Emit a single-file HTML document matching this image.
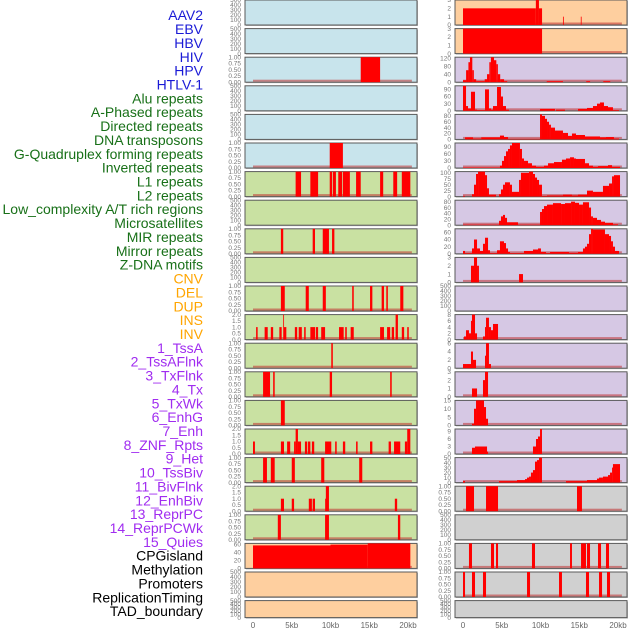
<!DOCTYPE html>
<html><head><meta charset="utf-8"><style>
body{margin:0;background:#fff;}
svg{display:block;font-family:"Liberation Sans",sans-serif;}
</style></head><body>
<svg id="c" width="630" height="630" viewBox="0 0 630 630" xmlns="http://www.w3.org/2000/svg"></svg>
<script>
const labels=["AAV2","EBV","HBV","HIV","HPV","HTLV-1","Alu repeats","A-Phased repeats","Directed repeats","DNA transposons","G-Quadruplex forming repeats","Inverted repeats","L1 repeats","L2 repeats","Low_complexity A/T rich regions","Microsatellites","MIR repeats","Mirror repeats","Z-DNA motifs","CNV","DEL","DUP","INS","INV","1_TssA","2_TssAFlnk","3_TxFlnk","4_Tx","5_TxWk","6_EnhG","7_Enh","8_ZNF_Rpts","9_Het","10_TssBiv","11_BivFlnk","12_EnhBiv","13_ReprPC","14_ReprPCWk","15_Quies","CPGisland","Methylation","Promoters","ReplicationTiming","TAD_boundary"];
const labelGroups=[6,13,5,15,5];
const xTicks=[0,5,10,15,20];
const xTickLabels=["0","5kb","10kb","15kb","20kb"];
const T500=["0","100","200","300","400","500"];
const T1=["0.00","0.25","0.50","0.75","1.00"];
const T2=["0.0","0.5","1.0","1.5","2.0"];
const T3=["0","1","2","3"];
const leftTicks=[T500,T500,T1,T500,T500,T1,T1,T500,T1,T500,T1,T2,T1,T1,T1,T2,T1,T2,T1,["0","20","40","60"],T500,T500];
const leftMax=[500,500,1,500,500,1,1,500,1,500,1,2,1,1,1,2,1,2,1,62,500,500];
const rightTicks=[T3,T3,["0","40","80","120"],["0","30","60","90"],["0","20","40","60","80"],["0","30","60","90"],["0","25","50","75","100"],["0","20","40","60","80"],["0","20","40","60"],T3,T500,["0","2","4","6","8"],["0","2","4","6"],T3,["0","5","10","15"],["0","3","6","9"],["0","10","20","30","40","50"],T1,T500,T1,T1,T500];
const rightMax=[3,3,125,105,85,105,105,85,70,3,500,8,6,3,15,10,50,1,500,1,1,500];
const leftSeries=[
[],[],
[[13.9,16.4,1]],
[],[],
[[9.9,11.6,1]],
[[5.5,6.2,1],[7.4,8.4,1],[9.9,10.2,1],[10.3,10.7,1],[11,11.5,1],[11.6,12.5,1],[13.3,13.9,1],[16.4,16.8,1],[18.1,18.6,1],[19.2,20.3,1]],
[],
[[3.6,3.9,1],[7.7,8.0,1],[9.0,9.8,1],[10.2,10.5,1]],
[],
[[3.6,4.1,1],[6.8,7.2,1],[9.0,9.4,1],[12.8,13.0,1],[15.1,15.4,1],[16.6,16.9,1],[17.2,17.4,1],[19.0,19.4,1]],
[[0.4,0.6,1],[1.5,1.9,1],[2.3,2.6,1],[3.4,3.7,1],[3.9,4.0,2],[4.0,4.3,1],[5.4,5.7,1],[5.9,6.3,1],[6.6,6.8,1],[7.4,8.0,1],[8.1,8.4,1],[8.8,9.3,1],[11.1,11.7,1],[11.9,12.1,1],[12.6,13.0,1],[16.4,16.9,1],[17.3,17.7,1],[17.9,18.2,1],[18.4,18.7,2],[19.2,19.5,1],[19.9,20.1,1]],
[[10.1,10.3,1]],
[[1.3,2.2,1],[2.6,2.8,1],[9.9,10.2,1],[17.7,17.9,1]],
[[3.6,4.1,1]],
[[0,0.25,1],[3.6,4.0,1],[4.4,4.8,1],[5.3,5.5,1],[5.5,5.8,2],[5.8,6.2,1],[6.7,7.0,1],[7.1,7.4,1],[7.6,7.9,1],[9.3,10.1,1],[10.6,10.8,1],[11.6,11.9,1],[13.3,13.5,1],[15.1,15.4,1],[17.5,17.8,1],[18.2,19.0,1],[19.6,19.9,1],[19.9,20.3,2]],
[[1.3,1.8,1],[2.3,2.8,1],[5.0,5.4,1],[8.8,9.2,1],[13.7,14.1,1]],
[[3.6,4.0,1],[5.0,5.3,1],[7.2,7.6,1],[7.7,8.0,1],[9.3,9.4,1],[9.4,9.8,2],[18.3,18.6,1]],
[[3.2,3.6,1],[9.3,9.8,1],[18.7,19.0,1]],
[[0,10,57],[10,14.8,59],[14.8,20.3,62]],
[],[]
];
const rightSeries=[
[[0,9.4,2],[9.4,9.8,3],[9.8,10.2,2],[12.9,13.0,1],[15.2,15.3,1]],
[[0,10.2,3]],
[[0,0.4,10],[0.4,0.7,60],[0.7,0.9,100],[0.9,1.2,125],[1.2,1.4,60],[1.4,1.7,15],[1.7,2.8,5],[2.8,3.1,15],[3.1,3.4,40],[3.4,3.6,100],[3.6,4.0,125],[4.0,4.3,110],[4.3,4.5,90],[4.5,4.8,40],[4.8,5.3,15],[5.3,5.7,5],[10.8,12.9,5],[15.9,16.4,5],[18.1,19,5]],
[[0,0.39,105],[0.39,0.65,20],[0.65,1.03,10],[1.03,1.55,80],[1.55,1.81,5],[1.81,2.84,3],[2.84,3.35,90],[3.35,3.61,10],[3.61,3.87,5],[3.87,4.39,20],[4.39,4.9,100],[4.9,5.16,60],[5.16,5.55,20],[5.55,5.94,5],[9.94,11.87,8],[12,13.16,5],[14.84,16,8],[16,16.77,12],[16.77,17.29,20],[17.29,17.68,30],[17.68,18.19,35],[18.19,18.71,20],[18.71,19.35,15],[19.35,20.13,3]],
[[0.26,1.29,7],[1.29,2.35,3],[2.35,4.77,7],[4.77,5.29,13],[5.29,5.81,8],[5.81,9.94,2],[9.94,10.19,85],[10.19,10.58,80],[10.58,10.84,70],[10.84,11.1,60],[11.1,11.35,50],[11.35,11.87,40],[11.87,12.9,30],[12.9,13.55,22],[13.55,14.06,12],[14.06,14.58,20],[14.58,15.74,15],[15.74,17.68,10],[17.68,18.45,7],[18.45,19.48,8],[19.48,20.13,3]],
[[0,4.77,2],[4.77,5.03,10],[5.03,5.29,30],[5.29,5.55,50],[5.55,5.81,70],[5.81,6.06,80],[6.06,6.32,95],[6.32,7.35,105],[7.35,7.61,80],[7.61,7.87,40],[7.87,8.39,30],[8.39,8.9,20],[8.9,9.42,10],[9.42,10.45,5],[10.45,10.97,10],[10.97,11.74,20],[11.74,12.77,25],[12.77,13.29,35],[13.29,13.81,40],[13.81,14.32,45],[14.32,14.58,40],[14.58,15.74,38],[15.74,16.26,20],[16.26,16.77,10],[16.77,17.42,5],[17.42,18.71,8],[18.71,19.23,12],[19.23,20.26,5]],
[[0,0.26,3],[1.16,1.42,10],[1.42,1.68,50],[1.68,1.94,95],[1.94,2.84,105],[2.84,3.1,90],[3.1,3.35,35],[3.35,4.26,8],[4.65,4.9,10],[4.9,5.16,30],[5.16,5.42,50],[5.42,6.06,60],[6.06,6.32,50],[6.32,7.23,20],[7.23,7.48,70],[7.48,8.52,100],[8.52,9.03,105],[9.03,9.29,95],[9.29,9.55,80],[9.55,9.81,70],[9.81,10.19,50],[10.19,10.84,3],[10.84,12.9,5],[12.9,14.06,8],[14.06,14.84,5],[14.84,16,8],[16,16.77,25],[16.77,18.06,20],[18.06,18.84,45],[18.84,19.23,55],[19.23,19.48,85],[19.48,20.26,90]],
[[0,4.65,2],[4.65,4.9,15],[4.9,5.16,30],[5.16,5.42,35],[5.42,5.68,25],[5.68,7.1,10],[7.1,9.94,2],[9.94,10.19,45],[10.19,10.45,55],[10.45,10.84,65],[10.84,11.61,70],[11.61,12.65,75],[12.65,13.16,72],[13.16,13.94,75],[13.94,14.45,80],[14.45,14.97,76],[14.97,15.48,70],[15.48,16.26,78],[16.26,16.52,60],[16.52,16.77,30],[16.77,17.29,25],[17.29,17.81,18],[17.81,18.32,12],[18.32,19.35,8],[19.35,20,3]],
[[0,0.26,8],[0.26,1.16,2],[1.16,1.42,15],[1.42,1.81,40],[1.81,2.19,15],[2.19,2.58,8],[2.58,2.84,28],[2.84,3.23,45],[3.23,3.48,10],[3.48,4.39,2],[4.39,4.77,10],[4.77,5.29,35],[5.29,5.55,30],[5.55,5.81,15],[5.81,6.06,5],[6.06,7.87,2],[7.87,9.03,8],[9.03,9.68,12],[9.68,10.06,15],[10.06,10.71,5],[10.71,11.23,2],[11.23,13.68,5],[13.68,14.84,3],[14.84,15.48,5],[15.48,15.74,15],[15.74,16,20],[16,16.26,28],[16.26,16.52,55],[16.52,16.77,70],[16.77,18.32,68],[18.32,18.84,55],[18.84,19.1,50],[19.1,19.35,35],[19.35,19.61,20],[19.61,20.13,8]],
[[1.03,1.42,2],[1.42,1.81,3],[1.81,2.06,2],[7.23,7.74,1]],
[],
[[0.13,0.39,1],[0.39,0.77,3],[0.77,1.03,2],[1.03,1.16,6],[1.16,1.55,8],[1.55,1.81,2],[2.58,2.84,1],[2.84,2.97,4],[2.97,3.35,7],[3.35,3.61,4],[3.61,3.87,3],[3.87,4.52,5]],
[[0,0.39,1],[0.39,1.03,1],[1.03,1.29,4],[1.29,1.68,2],[2.84,2.97,3],[2.97,3.35,6],[3.35,3.61,1]],
[[1.16,1.81,1],[2.58,2.84,2],[2.84,3.23,3]],
[[1.16,1.42,1],[1.42,1.68,10],[1.68,2.71,15],[2.71,2.97,11],[2.97,3.23,4]],
[[1.16,1.55,2.5],[1.55,3.1,3],[3.1,3.23,1],[9.03,9.42,3],[9.42,9.68,6],[9.68,9.94,7],[9.94,10.19,10]],
[[0,0.26,3],[4.65,6.97,3],[6.97,8,5],[8,8.26,7],[8.26,8.52,10],[8.52,8.77,12],[8.77,9.03,20],[9.03,9.29,25],[9.29,9.55,42],[9.55,9.81,45],[9.81,10.19,50],[13.29,16,3],[16,17.29,5],[17.29,17.55,8],[17.55,18.06,10],[18.06,18.71,12],[18.71,18.97,15],[18.97,19.23,20],[19.23,19.35,30],[19.35,20.26,37]],
[[0.39,1.42,1],[2.97,4.52,1],[14.71,15.35,1]],
[],
[[0.77,1.16,1],[3.61,4.0,1],[4.26,4.52,1],[8.9,9.29,1],[13.81,14.06,1],[15.23,15.87,1],[16,16.39,1],[17.42,17.81,1],[18.45,18.84,1]],
[[0,0.26,1],[1.16,1.55,1],[2.58,2.97,1],[8.26,8.65,1],[12.39,12.77,1],[15.87,16.26,1],[17.55,17.94,1],[18.58,18.97,1]],
[]
];
</script>
<script>
const svg=document.getElementById('c');
const NS="http://www.w3.org/2000/svg";
function mk(tag,at,parent){const e=document.createElementNS(NS,tag);for(const k in at)e.setAttribute(k,at[k]);(parent||svg).appendChild(e);return e;}
const labelColors=["#1a1ad6","#187018","#ffa500","#a02cf0","#000000"];
const leftBg=[];const rightBg=[];
for(let i=0;i<22;i++){leftBg.push(i<6?"#c8e4ec":(i<19?"#c9e1a2":"#fecf9f"));rightBg.push(i<2?"#fecf9f":(i<17?"#d6c8e4":"#d0d0d0"));}
function rowTop(i){return i*28.6;}
function rowH(i){return i===21?17:25;}
function xs(col,kb){return (col===0?253:463)+kb*7.75;}
let gi=0,cnt=0;
labels.forEach((t,i)=>{
  while(cnt>=labelGroups[gi]){cnt-=labelGroups[gi];gi++;}
  const e=mk('text',{x:203,y:16.5+i*13.86,'text-anchor':'end','dominant-baseline':'middle','font-size':14,fill:labelColors[gi]});
  e.textContent=t;
  
  
  cnt++;
});
function panel(col,i,series,ticks,ymax,bg){
  const px=col===0?245:455, top=rowTop(i), h=rowH(i), w=172;
  const g=mk('g',{});
  
  
  mk('rect',{x:px+1,y:top+1,width:w,height:h,fill:'#bbbbbb'},g);
  mk('rect',{x:px,y:top,width:w,height:h,fill:bg,stroke:'#5a5a5a','stroke-width':1},g);
  const ys=v=>top+h-v/ymax*h;
  if(series.length){
    const b=mk('rect',{x:xs(col,0),y:top+h-2.5,width:xs(col,20.5)-xs(col,0),height:2,fill:'#c03030','fill-opacity':0.55},g);
    
    
  }
  series.forEach(s=>{
    const r=mk('rect',{x:xs(col,s[0]),y:ys(s[2]),width:Math.max(0.8,xs(col,s[1])-xs(col,s[0])),height:top+h-ys(s[2]),fill:'#ff0000'},g);
    
    
  });
  ticks.forEach(t=>{
    const v=parseFloat(t);
    const e=mk('text',{x:px-4,y:ys(v)+2.2,'text-anchor':'end','font-size':6.5,fill:'#777'},g);
    e.textContent=t;
    
    
  });
}
for(let i=0;i<22;i++){
  panel(0,i,leftSeries[i],leftTicks[i],leftMax[i],leftBg[i]);
  panel(1,i,rightSeries[i],rightTicks[i],rightMax[i],rightBg[i]);
}
[0,1].forEach(col=>{
  xTicks.forEach((k,j)=>{
    const e=mk('text',{x:xs(col,k),y:628,'text-anchor':'middle','font-size':8,fill:'#666'});
    e.textContent=xTickLabels[j];
    
    
  });
});
</script>
</body></html>
